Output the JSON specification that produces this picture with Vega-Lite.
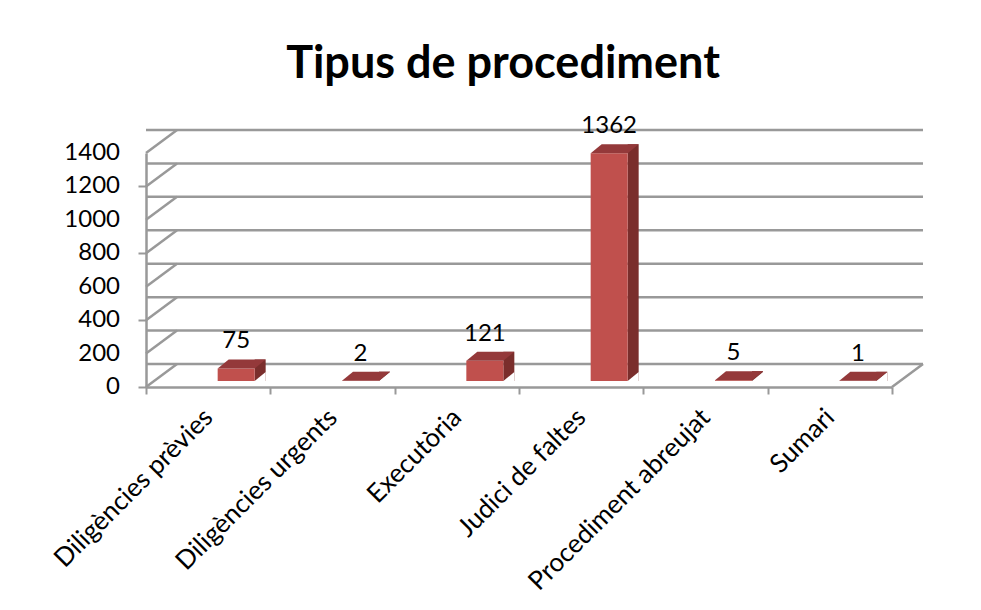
{
  "$schema": "https://vega.github.io/schema/vega-lite/v6.json",
  "autosize": {"type": "none"},
  "padding": {"left": 146, "top": 153, "right": 89, "bottom": 223},
  "width": 746,
  "height": 234,
  "background": "white",
  "title": {"text": "Tipus de procediment", "font": "Lato", "fontSize": 45, "fontWeight": "bold", "color": "#000000", "anchor": "middle", "dx": -16, "offset": 27},
  "config": {"view": {"stroke": null}, "font": "Lato", "axis": {"labelOverlap": false, "labelBound": false}},
  "datasets": {
    "d": [
      {"cat": "Diligències prèvies", "n": 75},
      {"cat": "Diligències urgents", "n": 2},
      {"cat": "Executòria", "n": 121},
      {"cat": "Judici de faltes", "n": 1362},
      {"cat": "Procediment abreujat", "n": 5},
      {"cat": "Sumari", "n": 1}
    ],
    "g": [{"v": 0}, {"v": 200}, {"v": 400}, {"v": 600}, {"v": 800}, {"v": 1000}, {"v": 1200}, {"v": 1400}]
  },
  "layer": [
    {
      "data": {"name": "g"},
      "mark": {"type": "rule", "color": "#999999", "strokeWidth": 2.5, "xOffset": 31, "x2Offset": 31, "yOffset": -23, "y2Offset": -23},
      "encoding": {"y": {"field": "v", "type": "quantitative", "title": null,
          "scale": {"domain": [0, 1400], "nice": false, "zero": true},
          "axis": {"values": [0, 200, 400, 600, 800, 1000, 1200, 1400], "labels": false, "grid": false, "domainColor": "#999999", "domainWidth": 2.5, "tickColor": "#999999", "tickWidth": 2, "tickSize": 8}}}
    },
    {
      "data": {"name": "g"},
      "mark": {"type": "rule", "color": "#999999", "strokeWidth": 2.5, "x2Offset": 31, "y2Offset": -23},
      "encoding": {
        "x": {"datum": "Diligències prèvies", "type": "nominal", "bandPosition": 0},
        "x2": {"datum": "Diligències prèvies", "bandPosition": 0},
        "y": {"field": "v", "type": "quantitative"},
        "y2": {"field": "v"}
      }
    },
    {
      "data": {"name": "g"},
      "mark": {"type": "text", "fontSize": 24, "font": "Lato", "color": "#000000", "align": "right", "baseline": "middle", "xOffset": -26},
      "encoding": {
        "x": {"datum": "Diligències prèvies", "type": "nominal", "bandPosition": 0},
        "y": {"field": "v", "type": "quantitative"},
        "text": {"field": "v", "type": "quantitative", "format": "d"}
      }
    },
    {
      "data": {"values": [{"k": 1}]},
      "mark": {"type": "rule", "color": "#999999", "strokeWidth": 2.5, "x2Offset": 31, "y2Offset": -23},
      "encoding": {
        "x": {"datum": "Sumari", "type": "nominal", "bandPosition": 1},
        "x2": {"datum": "Sumari", "bandPosition": 1},
        "y": {"datum": 0, "type": "quantitative"},
        "y2": {"datum": 0}
      }
    },
    {
      "data": {"name": "d"},
      "mark": {"type": "bar", "width": 11, "xOffset": 52, "yOffset": -15, "y2Offset": -6, "color": "#7a2e2c"},
      "encoding": {
        "x": {"field": "cat", "type": "nominal"},
        "y": {"field": "n", "type": "quantitative"},
        "y2": {"datum": 0}
      }
    },
    {
      "data": {"name": "d"},
      "mark": {"type": "point", "shape": "M18.5,0L29.5,-9L29.5,1L18.5,1Z", "size": 4, "filled": true, "opacity": 1, "color": "white", "strokeWidth": 0, "xOffset": 28, "yOffset": -6},
      "encoding": {
        "x": {"field": "cat", "type": "nominal"},
        "y": {"datum": 0, "type": "quantitative"}
      }
    },
    {
      "data": {"name": "d"},
      "mark": {"type": "bar", "width": 37, "xOffset": 28, "yOffset": -6, "y2Offset": -6, "color": "#c0504d"},
      "encoding": {
        "x": {"field": "cat", "type": "nominal", "title": null,
          "scale": {"domain": ["Diligències prèvies", "Diligències urgents", "Executòria", "Judici de faltes", "Procediment abreujat", "Sumari"], "paddingInner": 0, "paddingOuter": 0},
          "axis": {"labelAngle": -45, "labelFontSize": 26, "labelColor": "#000000", "labelFont": "Lato", "labelLimit": 0, "labelOverlap": false, "tickBand": "extent", "domainColor": "#999999", "domainWidth": 2.5, "tickColor": "#999999", "tickWidth": 2, "tickSize": 7, "labelPadding": 19, "labelAlign": "right", "labelBaseline": "middle"}},
        "y": {"field": "n", "type": "quantitative"},
        "y2": {"datum": 0}
      }
    },
    {
      "data": {"name": "d"},
      "mark": {"type": "point", "shape": "M-18.5,0L18.5,0L29.5,-9L-7.5,-9Z", "size": 4, "filled": true, "opacity": 1, "color": "#94393a", "strokeWidth": 0, "xOffset": 28, "yOffset": -6},
      "encoding": {
        "x": {"field": "cat", "type": "nominal"},
        "y": {"field": "n", "type": "quantitative"}
      }
    },
    {
      "data": {"name": "d"},
      "mark": {"type": "text", "fontSize": 24, "font": "Lato", "color": "#000000", "baseline": "alphabetic", "align": "center", "xOffset": 28, "yOffset": -26},
      "encoding": {
        "x": {"field": "cat", "type": "nominal"},
        "y": {"field": "n", "type": "quantitative"},
        "text": {"field": "n", "type": "quantitative"}
      }
    }
  ]
}
